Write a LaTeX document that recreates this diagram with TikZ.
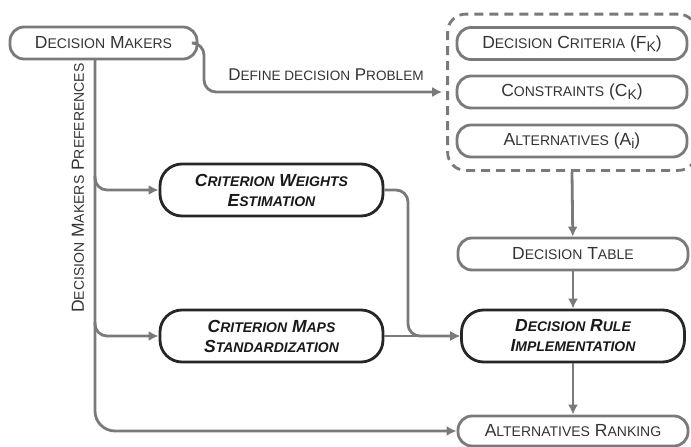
\documentclass[tikz,border=0pt]{standalone}
\usepackage{fontspec}
\setmainfont{Liberation Sans}
\usetikzlibrary{arrows.meta,fit,calc}
\makeatletter
\newcommand\sm[1]{{\fontsize{\the\dimexpr0.8\dimexpr\f@size pt\relax\relax}{0pt}\selectfont#1}}
\makeatother
\newcommand\low[1]{\raisebox{-0.35ex}{\sm{#1}}}
\definecolor{linegray}{HTML}{7A7A7A}
\definecolor{textgray}{HTML}{333333}

\begin{document}
\begin{tikzpicture}[x=1pt, y=-1pt,
    box/.style={draw=linegray, line width=2.8pt, rounded corners=14pt, text=textgray, minimum height=32pt, minimum width=230pt, inner sep=0pt, font=\fontsize{17.5}{20}\selectfont},
    task/.style={box, draw=black!85, text=black!90, rounded corners=22pt, minimum height=52pt, minimum width=223pt, font=\fontsize{17.5}{20}\selectfont\bfseries\itshape, align=center},
    conn/.style={draw=linegray, line width=2.8pt, -{Latex[length=10pt,width=10pt]}}]
        \useasboundingbox (0,0) rectangle (691,447);

        \node[box, minimum width=187pt] (dm) at (103.5,43) {D\sm{ECISION} M\sm{AKERS}};
        \node[box] (crit) at (572,43.5) {D\sm{ECISION} C\sm{RITERIA} (F\low{K})};
        \node[box] (cons) at (572,92) {C\sm{ONSTRAINTS} (C\low{K})};
        \node[box] (alt) at (572,141) {A\sm{LTERNATIVES} (A\low{i})};
        \node[fit=(crit)(cons)(alt), draw=linegray, line width=2.8pt, dash pattern=on 9pt off 6pt, rounded corners=18pt, inner xsep=8pt, inner ysep=12pt] (inputs) {};
        \node[box] (table) at (573,254) {D\sm{ECISION} T\sm{ABLE}};
        \node[task] (rule) at (573,336) {D\sm{ECISION} R\sm{ULE}\\I\sm{MPLEMENTATION}};
        \node[box, minimum height=30pt] (rank) at (573,431) {A\sm{LTERNATIVES} R\sm{ANKING}};
        \node[task] (cwe) at (271.5,190) {C\sm{RITERION} W\sm{EIGHTS}\\E\sm{STIMATION}};
        \node[task] (cms) at (271.5,336) {C\sm{RITERION} M\sm{APS}\\S\sm{TANDARDIZATION}};

        \node[text=textgray, font=\fontsize{17}{20}\selectfont] (define) at (326,75) {D\sm{EFINE DECISION} P\sm{ROBLEM}};
        \node[text=textgray, rotate=90, font=\fontsize{17.5}{20}\selectfont] (prefs) at (78,188) {D\sm{ECISION} M\sm{AKERS} P\sm{REFERENCES}};

        \coordinate (pref) at (95,59);
        \coordinate (bend) at (204,92);
        \coordinate (join) at (408,336);

        \draw[conn, rounded corners=12pt, shorten >=4pt] (dm.east) -| (bend) -- (inputs.west |- bend);
        \draw[conn, rounded corners=20pt] (pref) |- (rank.west);
        \draw[conn, rounded corners=12pt] ($(pref |- cwe.west)+(0,-14)$) |- (cwe.west);
        \draw[conn, rounded corners=12pt] ($(pref |- cms.west)+(0,-14)$) |- (cms.west);
        \draw[conn] (inputs.south) -- (table);
        \draw[conn] (table) -- (rule);
        \draw[conn] (rule) -- (rank);
        \draw[conn, rounded corners=12pt] (cwe.east) -| (join) -- (rule.west);
        \draw[conn] (cms) -- (rule);
    \end{tikzpicture}
\end{document}
